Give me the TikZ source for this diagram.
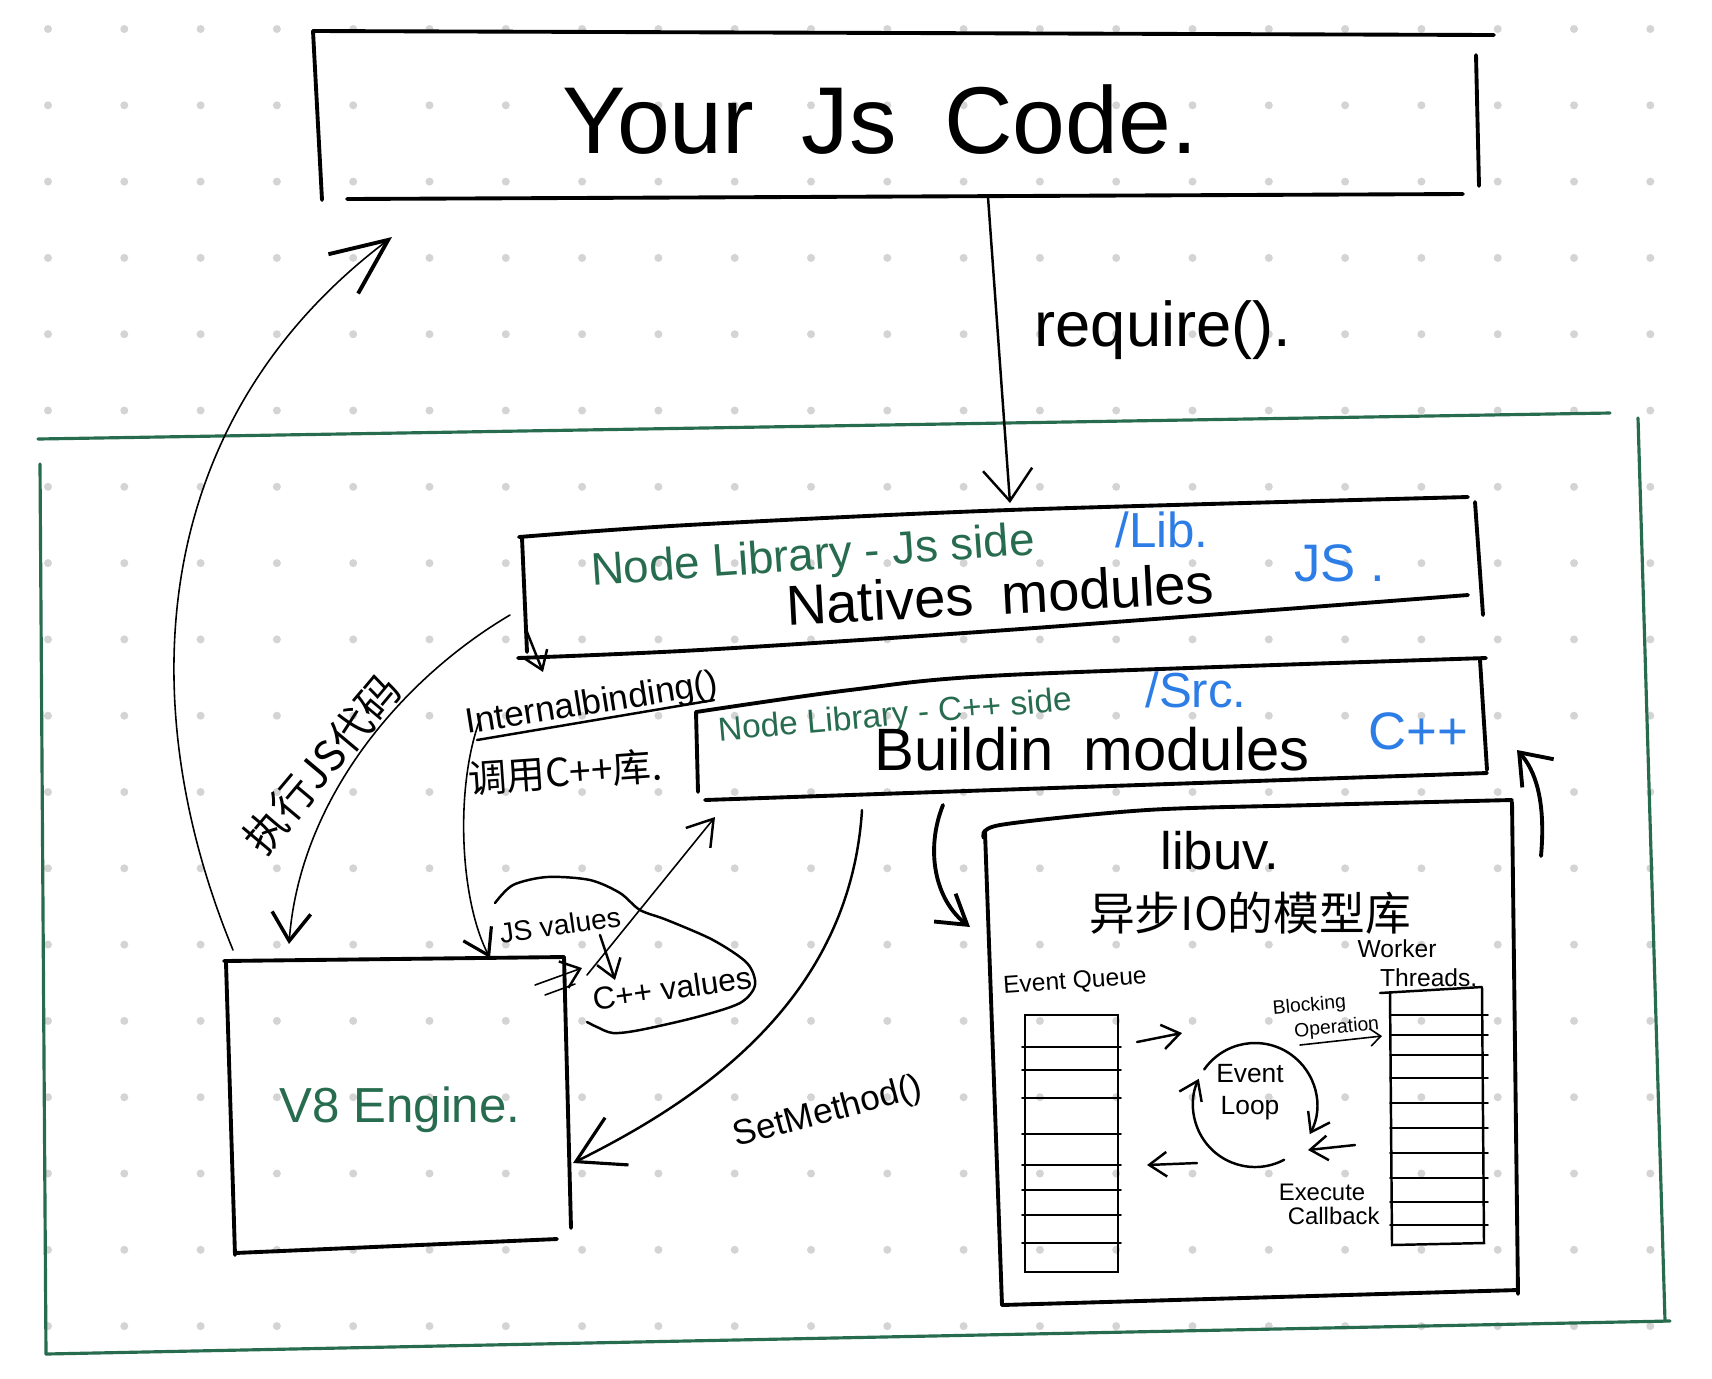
\documentclass[tikz,border=0pt]{standalone}
\usepackage{fontspec}
\setmainfont{Liberation Sans}
\newfontfamily\cjk{Noto Sans CJK SC}
\usepackage{tikz}
\usetikzlibrary{positioning,arrows.meta}

\definecolor{inkgreen}{RGB}{40,108,80}
\definecolor{inkblue}{RGB}{45,125,230}
\definecolor{dotgray}{RGB}{212,212,212}
\newcommand{\fsz}[2]{\fontsize{#1}{#2}\selectfont}

\begin{document}
\begin{tikzpicture}[x=0.01cm, y=-0.01cm,
handline/.style={line width=1.1pt, line cap=round, line join=round},
greenline/.style={line width=0.9pt, draw=inkgreen, line cap=round},
midline/.style={line width=0.7pt, line cap=round},
thinline/.style={line width=0.45pt, line cap=round},
smalltip/.style={-{Straight Barb[length=5pt,width=7pt]}},
bigtip/.style={-{Straight Barb[length=16pt,width=14pt,line width=1.1pt]}},
lbl/.style={inner sep=0pt, outer sep=0pt},
]
\fill[white] (0,0) rectangle (1712,1378);
\useasboundingbox (0,0) rectangle (1712,1378);
%Grid
\foreach \i in {0,...,21}
  \foreach \j in {0,...,17}
    \fill[dotgray] (48+\i*76.3,29+\j*76.3) circle[radius=4];

%Nodes
\node[lbl] (code) at (880,120) {\fsz{27}{30}Your\enspace Js\enspace Code.};
\node[lbl] (req) at (1163,330) {\fsz{18}{20}require().};

\node[lbl, text=inkgreen, rotate=4] (jsside) at (813,558) {\fsz{13}{15}Node Library - Js side};
\node[lbl, text=inkblue] (lib) at (1162,530) {\fsz{14}{16}/Lib.};
\node[lbl, rotate=3] (natives) at (1000,594) {\fsz{16}{18}Natives\enspace modules};
\node[lbl, text=inkblue] (jsmark) at (1340,563) {\fsz{15}{17}JS .};

\node[lbl, text=inkgreen, rotate=5] (cppside) at (895,717) {\fsz{9.5}{11}Node Library - C++ side};
\node[lbl, text=inkblue] (src) at (1196,690) {\fsz{14}{16}/Src.};
\node[lbl] (buildin) at (1092,749) {\fsz{17}{19}Buildin\enspace modules};
\node[lbl, text=inkblue] (cppmark) at (1418,731) {\fsz{15}{17}C++};

\node[lbl, rotate=9] (binding) at (592,705) {\fsz{10}{12}Internalbinding()};
\node[lbl, rotate=4] (callcpp) at (565,772) {\cjk\fsz{11}{13}调用C++库.};
\node[lbl, rotate=50] (runjs) at (322,764) {\cjk\fsz{12}{14}执行JS代码};

\node[lbl, text=inkgreen] (v8) at (400,1110) {\fsz{14}{16}V8 Engine.};
\node[lbl, rotate=8] (jsval) at (560,925) {\fsz{8}{10}JS values};
\node[lbl, rotate=8] (cppval) at (672,988) {\fsz{9}{11}C++ values};
\node[lbl, rotate=15] (setm) at (828,1113) {\fsz{10}{12}SetMethod()};

\node[lbl] (libuv) at (1220,851) {\fsz{15}{17}libuv.};
\node[lbl] (asyncio) at (1250,913) {\cjk\fsz{13}{15}异步IO的模型库};
\node[lbl, rotate=4] (queue) at (1075,982) {\fsz{7}{8}Event Queue};
\node[lbl] (workers) at (1397,949) {\fsz{7}{8}Worker};
\node[lbl] (threads) [below right=3pt and -16pt of workers] {\fsz{7}{8}Threads.};
\node[lbl, align=center, font=\fsz{7.5}{9}] (loop) at (1250,1092) {Event\\Loop};
\node[lbl, align=left, rotate=5, font=\fsz{5.5}{7}] (blocking) at (1326,1017) {Blocking\\\quad Operation};
\node[lbl] (execute) at (1322,1192) {\fsz{6.8}{8}Execute};
\node[lbl] (callback) [below right=2pt and -22pt of execute] {\fsz{6.8}{8}Callback};

%Boxes
\draw[handline] (313,31) -- (1494,35);
\draw[handline] (313,31) -- (322,200);
\draw[handline] (1476,55) -- (1479,186);
\draw[handline] (347,199) -- (1463,194);

\draw[greenline] (38,439) -- (1610,413);
\draw[greenline] (40,464) -- (46,1354);
\draw[greenline] (1638,418) -- (1665,1321);
\draw[greenline] (46,1354) -- (1670,1321);

\draw[handline] plot[smooth] coordinates {(519,537) (688,525) (1009,510) (1468,497)};
\draw[handline] (522,538) -- (527,652);
\draw[handline] plot[smooth] coordinates {(518,658) (700,650) (1007,630) (1468,595)};
\draw[handline] (1475,502) -- (1483,615);

\draw[handline] plot[smooth] coordinates {(696,712) (850,690) (1007,675) (1486,658)};
\draw[handline] (696,712) -- (698,792);
\draw[handline] (705,800) -- (1487,773);
\draw[handline] (1480,660) -- (1487,770);

\draw[handline] (224,961) -- (564,957);
\draw[handline] (226,963) -- (235,1255);
\draw[handline] (235,1253) -- (557,1239);
\draw[handline] (564,957) -- (571,1228);

\draw[handline] plot[smooth] coordinates {(984,838) (1000,825) (1147,810) (1313,805) (1512,800)};
\draw[handline] (985,832) -- (1002,1305);
\draw[handline] (1002,1305) -- (1518,1290);
\draw[handline] (1512,802) -- (1518,1294);

%Underline
\draw[midline] (477,740) -- (714,700);

%Queues
\draw[midline] (1025,1015) rectangle (1118,1272);
\foreach \y in {1047,1070,1098,1134,1165,1190,1215,1243}
  \draw[thinline] (1022,\y) -- (1121,\y);
\draw[midline] (1380,993) -- (1482,987);
\draw[midline] (1390,992) -- (1392,1245) -- (1484,1243) -- (1482,988);
\foreach \y in {1015,1035,1055,1078,1103,1128,1153,1178,1202,1225}
  \draw[thinline] (1390,\y) -- (1488,\y);

%Cloud
\draw[midline] plot[smooth] coordinates {(495,903) (513,885) (547,877) (590,880) (620,893) (640,910)
  (667,920) (713,940) (747,963) (755,985) (740,1003) (697,1017) (640,1030) (613,1033) (597,1027) (587,1022)};

%Coordinates
\coordinate (codebottom) at (988,197);
\coordinate (nativestop) at (1010,503);
\coordinate (nativesleft) at (510,615);
\coordinate (nativesfoot) at (527,632);
\coordinate (bindingfoot) at (479,722);
\coordinate (v8top) at (289,944);
\coordinate (v8corner) at (233,950);
\coordinate (v8in) at (490,958);
\coordinate (v8side) at (573,1163);
\coordinate (v8out) at (535,985);
\coordinate (v8out2) at (545,995);
\coordinate (codecorner) at (392,237);
\coordinate (buildinfoot) at (862,810);
\coordinate (buildinleft) at (943,805);
\coordinate (buildincorner) at (715,817);
\coordinate (libuvtop) at (970,927);
\coordinate (libuvside) at (1541,856);
\coordinate (buildinright) at (1517,750);
\coordinate (jsfoot) at (600,935);
\coordinate (cpphead) at (615,980);
\coordinate (loopc) at (1255,1105);

%Lines
\draw[midline, -{Straight Barb[length=9pt,width=14pt]}] (codebottom) -- (nativestop);
\draw[thinline, -{Straight Barb[length=8pt,width=11pt,line width=1pt]}] (nativesleft) .. controls (400,680) and (300,800) .. (v8top);
\draw[thinline, bigtip] (v8corner) .. controls (130,700) and (150,420) .. (codecorner);
\draw[midline, smalltip] (nativesfoot) -- (543,672);
\draw[thinline, -{Straight Barb[length=7pt,width=9pt,line width=0.9pt]}] (bindingfoot) .. controls (455,790) and (460,900) .. (v8in);
\draw[thinline, -{Straight Barb[length=5pt,width=8pt,line width=0.7pt]}] (v8out) -- (582,968);
\draw[thinline] (v8out2) -- (575,984);
\draw[midline, smalltip] (jsfoot) -- (cpphead);
\draw[thinline, -{Straight Barb[length=7pt,width=9pt,line width=0.7pt]}] (587,975) -- (buildincorner);
\draw[midline, -{Straight Barb[length=13pt,width=15pt,line width=0.9pt]}] (buildinfoot) .. controls (850,1000) and (700,1100) .. (v8side);
\draw[handline, -{Straight Barb[length=8pt,width=10pt]}] (buildinleft) .. controls (925,850) and (935,900) .. (libuvtop);
\draw[handline, -{Straight Barb[length=8pt,width=12pt]}] (libuvside) .. controls (1546,800) and (1535,770) .. (buildinright);

\draw[midline, smalltip] (1137,1042) -- (1182,1033);
\draw[midline, smalltip] (1197,1163) -- (1147,1165);
\draw[midline, smalltip] (1355,1145) -- (1308,1150);
\draw[thinline, -{Straight Barb[length=3pt,width=5pt]}] (1300,1045) -- (1382,1036);
\draw[midline, smalltip] (loopc) ++(-145:62) arc[start angle=-145, end angle=28, radius=62];
\draw[midline, smalltip] (loopc) ++(62:62) arc[start angle=62, end angle=205, radius=62];
\end{tikzpicture}
\end{document}
